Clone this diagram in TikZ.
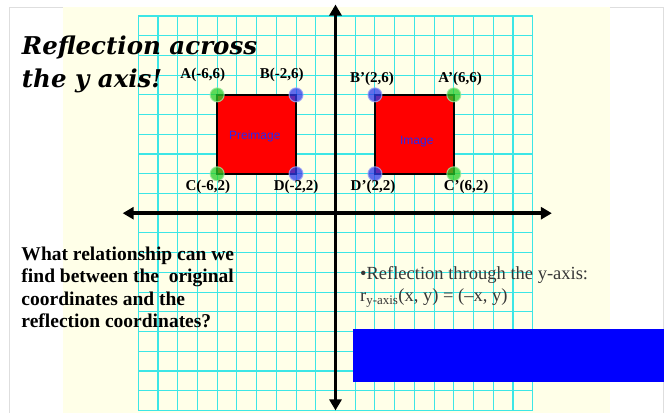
\documentclass[tikz,border=0pt]{standalone}
\usepackage{fontspec}
\setmainfont{Liberation Serif}
\setsansfont{Liberation Sans}
\newfontfamily\titlefont{DejaVu Serif}
\usepackage{tikz}
\usetikzlibrary{arrows.meta}

\definecolor{cream}{RGB}{255,255,232}
\definecolor{gridcyan}{RGB}{60,230,230}
\definecolor{ptgreen}{RGB}{40,205,40}
\definecolor{ptblue}{RGB}{45,60,235}
\definecolor{framegray}{RGB}{222,222,222}
\definecolor{notegray}{RGB}{55,55,55}
\definecolor{shapeblue}{RGB}{40,40,240}

\begin{document}
\begin{tikzpicture}[
  x=19.72pt, y=19.72pt,
  gridline/.style={gridcyan, line width=1.1pt},
  axis/.style={line width=3.5pt, {Triangle[length=11pt,width=12pt]}-{Triangle[length=11pt,width=12pt]}},
  sq/.style={draw=black, line width=1.6pt, fill=red},
  ptg/.style={circle, inner sep=0pt, minimum size=14pt, fill=ptgreen, fill opacity=0.75, draw=ptgreen!45!white, draw opacity=0.8, line width=1pt},
  ptb/.style={circle, inner sep=0pt, minimum size=14pt, fill=ptblue, fill opacity=0.75, draw=ptblue!45!white, draw opacity=0.8, line width=1pt},
  lbl/.style={font=\fontsize{15}{15}\selectfont\bfseries, inner sep=0pt},
  shapelbl/.style={font=\sffamily\fontsize{12}{12}\selectfont, text=shapeblue, inner sep=0pt},
  titletext/.style={font=\titlefont\fontsize{24.5}{24.5}\selectfont\bfseries\itshape, inner sep=0pt, anchor=base west},
  ruletext/.style={font=\fontsize{18.5}{18.5}\selectfont, text=notegray, inner sep=0pt, anchor=base west},
]
  \useasboundingbox (-17.01,-10.08) rectangle (17.01,10.81);

  % slide background
  \fill[white] (-17.01,-10.08) rectangle (17.01,10.81);
  \draw[framegray, fill=white] (-16.52,-11) rectangle (16.63,10.47);
  \fill[cream] (-13.83,-11) rectangle (13.93,10.47);

  % grid and squares
  \foreach \k in {-10,...,10} {
    \draw[gridline] (\k,-10) -- (\k,10);
    \draw[gridline] (-10,\k) -- (10,\k);
  }
  \draw[sq] (-6,2) rectangle (-2,6);
  \draw[sq] (2,2) rectangle (6,6);

  % axes
  \draw[axis] (0,-10.0) -- (0,10.58);
  \draw[axis] (-10.79,0) -- (10.97,0);

  % vertices
  \node[ptg] (A) at (-6,6) {};
  \node[ptb] (B) at (-2,6) {};
  \node[ptg] (C) at (-6,2) {};
  \node[ptb] (D) at (-2,2) {};
  \node[ptg] (A') at (6,6) {};
  \node[ptb] (B') at (2,6) {};
  \node[ptg] (C') at (6,2) {};
  \node[ptb] (D') at (2,2) {};

  \node[lbl] (lA) at (-6.73,7.01) {A(-6,6)};
  \node[lbl] (lB) at (-2.72,7.01) {B(-2,6)};
  \node[lbl] (lB') at (1.85,6.81) {B’(2,6)};
  \node[lbl] (lA') at (6.32,6.81) {A’(6,6)};
  \node[lbl] (lC) at (-6.47,1.33) {C(-6,2)};
  \node[lbl] (lD) at (-2.0,1.33) {D(-2,2)};
  \node[lbl] (lD') at (1.9,1.33) {D’(2,2)};
  \node[lbl] (lC') at (6.62,1.33) {C’(6,2)};

  \node[shapelbl] (pre) at (-4.09,3.87) {Preimage};
  \node[shapelbl] (img) at (4.12,3.63) {Image};

  % texts
  \node[titletext] (title1) at (-15.91,8.03) {Reflection across};
  \node[titletext] (title2) at (-15.91,6.35) {the y axis!};

  \node[font=\fontsize{19.5}{22.5}\selectfont\bfseries, align=left, inner sep=0pt, anchor=north west] (question) at (-15.93,-1.68)
    {What relationship can we\\find between the\ \ original\\coordinates and the\\reflection coordinates?};

  \node[ruletext] (rule1) at (1.24,-3.36) {\textbullet Reflection through the y-axis:};
  \node[ruletext] (rule2) at (1.24,-4.49) {r\textsubscript{y-axis}(x, y) = (–x, y)};

  \fill[blue] (0.89,-5.88) rectangle (16.67,-8.55);
\end{tikzpicture}
\end{document}
